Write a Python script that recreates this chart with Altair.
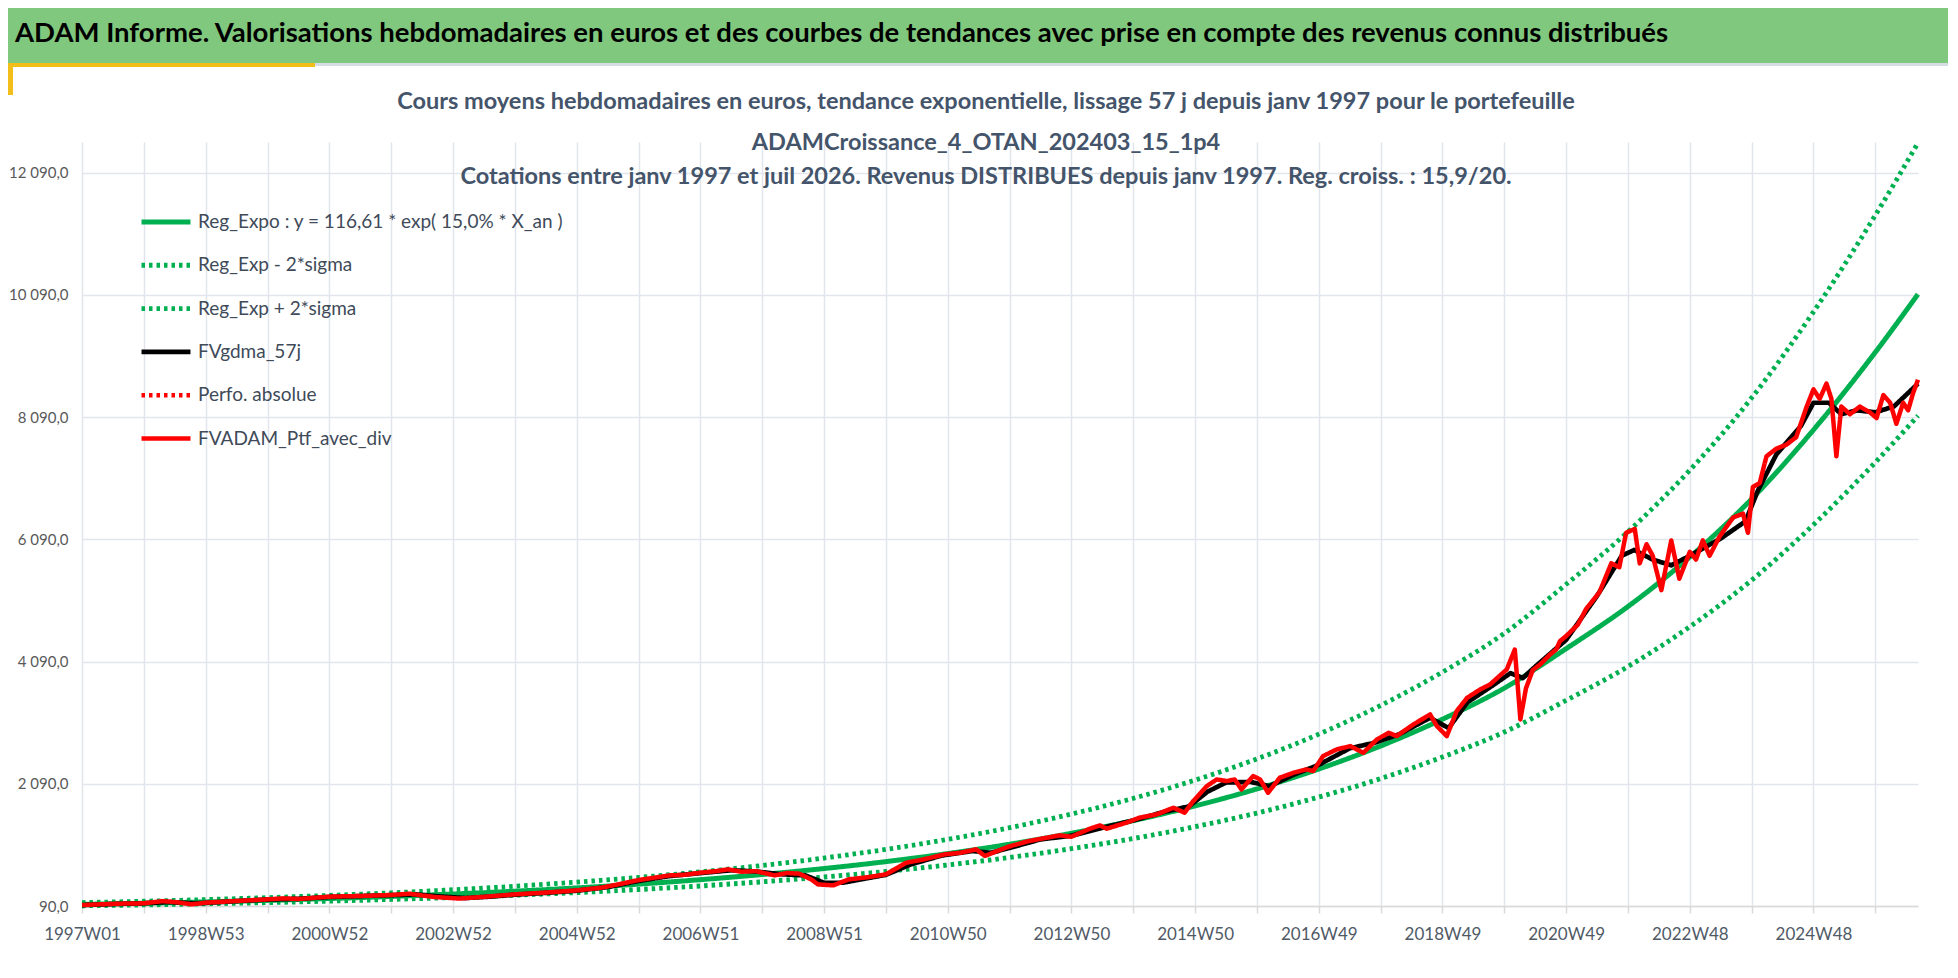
import json
import altair as alt
import pandas as pd

# ---------------- data ----------------
SERIES = [
    "Reg_Expo : y = 116,61 *  exp( 15,0% *  X_an )",
    "Reg_Exp - 2*sigma",
    "Reg_Exp + 2*sigma",
    "FVgdma_57j",
    "Perfo. absolue",
    "FVADAM_Ptf_avec_div",
]
COLORS = ["#00B050", "#00B050", "#00B050", "#000000", "#FF0000", "#FF0000"]
DASHES = [[1, 0], [3.5, 4], [3.5, 4], [1, 0], [3.5, 4], [1, 0]]
WIDTHS = [5, 4.5, 4.5, 4.5, 4.5, 5.5]

TREND_YEARS = [1997, 1998, 1999, 2000, 2001, 2002, 2003, 2004, 2005, 2006, 2007,
               2008, 2009, 2010, 2011, 2012, 2013, 2014, 2015, 2016, 2017, 2018,
               2019, 2020, 2021, 2022, 2023, 2024, 2025, 2026, 2026.69]
TREND = [117, 135, 157, 182, 212, 246, 286, 332, 386, 448, 521, 605, 703, 816, 948,
         1101, 1280, 1487, 1727, 2006, 2331, 2708, 3146, 3655, 4300, 4990, 5800,
         6750, 7880, 9150, 10100]
LOWER = [94, 108, 126, 146, 170, 198, 230, 267, 310, 360, 418, 486, 565, 655, 761,
         884, 1028, 1194, 1387, 1611, 1872, 2175, 2527, 2936, 3454, 4008, 4659,
         5422, 6329, 7349, 8112]
UPPER = [146, 168, 195, 227, 264, 306, 356, 413, 481, 558, 649, 753, 875, 1016, 1180,
         1371, 1594, 1851, 2150, 2497, 2902, 3371, 3917, 4551, 5354, 6213, 7221,
         8404, 9811, 11392, 12575]

RED_YEARS = [1997.0, 1997.3, 1997.6, 1998.0, 1998.3, 1998.55, 1998.77, 1999.0, 1999.5,
             2000.0, 2000.25, 2000.5, 2001.0, 2001.5, 2002.0, 2002.3, 2002.5, 2002.7,
             2003.1, 2003.5, 2004.0, 2004.5, 2005.0, 2005.4, 2005.7, 2006.0, 2006.3,
             2006.5, 2006.75, 2007.0, 2007.25, 2007.45, 2007.66, 2007.9, 2008.2, 2008.4,
             2008.6, 2008.8, 2008.9, 2009.15, 2009.4, 2009.7, 2010.0, 2010.33, 2010.6,
             2010.95, 2011.2, 2011.46, 2011.6, 2011.8, 2011.98, 2012.3, 2012.6, 2012.81,
             2013.0, 2013.3, 2013.46, 2013.57, 2013.89, 2014.1, 2014.38, 2014.65,
             2014.83, 2014.97, 2015.19, 2015.35, 2015.51, 2015.64, 2015.75, 2015.94,
             2016.05, 2016.18, 2016.37, 2016.59, 2016.8, 2016.91, 2017.07, 2017.29,
             2017.51, 2017.72, 2017.94, 2018.13, 2018.26, 2018.53, 2018.8, 2018.91,
             2019.07, 2019.23, 2019.4, 2019.61, 2019.77, 2020.04, 2020.17, 2020.26,
             2020.35, 2020.46, 2020.58, 2020.74, 2020.84, 2020.9, 2021.0, 2021.19,
             2021.32, 2021.54, 2021.73, 2021.86, 2021.97, 2022.11, 2022.19, 2022.3,
             2022.4, 2022.54, 2022.7, 2022.83, 2023.0, 2023.1, 2023.21, 2023.32,
             2023.48, 2023.7, 2023.86, 2023.94, 2024.02, 2024.13, 2024.24, 2024.4,
             2024.56, 2024.72, 2024.89, 2025.0, 2025.1, 2025.21, 2025.29, 2025.37,
             2025.45, 2025.59, 2025.75, 2025.91, 2026.02, 2026.13, 2026.24, 2026.34,
             2026.45, 2026.53, 2026.61, 2026.69]
RED = [105, 118, 128, 134, 170, 150, 117, 145, 172, 199, 215, 205, 243, 254, 270, 292,
       262, 237, 212, 240, 281, 310, 346, 390, 450, 515, 560, 591, 600, 635, 660, 690,
       651, 660, 591, 630, 619, 520, 444, 428, 526, 560, 608, 799, 850, 935, 960, 1017,
       908, 990, 1060, 1150, 1207, 1246, 1224, 1355, 1409, 1355, 1453, 1535, 1589, 1698,
       1616, 1807, 2052, 2161, 2134, 2161, 1998, 2216, 2161, 1943, 2189, 2270, 2325,
       2298, 2543, 2652, 2706, 2597, 2815, 2924, 2870, 3061, 3224, 3033, 2870, 3279,
       3497, 3633, 3715, 3960, 4287, 3143, 3650, 3950, 4042, 4205, 4288, 4423, 4507,
       4694, 4945, 5226, 5696, 5633, 6196, 6259, 5696, 6009, 5821, 5258, 6071, 5445,
       5884, 5758, 6071, 5821, 6134, 6446, 6509, 6196, 6947, 7010, 7448, 7573, 7636,
       7761, 8262, 8543, 8387, 8637, 8387, 7448, 8262, 8136, 8262, 8168, 8074, 8449,
       8324, 7980, 8324, 8199, 8480, 8700]

BLACK_YEARS = [1997.0, 1997.5, 1998.0, 1998.4, 1998.8, 1999.0, 1999.5, 2000.0, 2000.5,
               2001.0, 2001.5, 2002.0, 2002.4, 2002.8, 2003.2, 2003.6, 2004.0, 2004.5,
               2005.0, 2005.5, 2006.0, 2006.5, 2007.0, 2007.5, 2007.9, 2008.3, 2008.7,
               2009.0, 2009.3, 2009.7, 2010.0, 2010.4, 2010.9, 2011.4, 2011.7, 2012.0,
               2012.5, 2013.0, 2013.5, 2014.0, 2014.5, 2014.9, 2015.2, 2015.5, 2015.9,
               2016.2, 2016.6, 2017.0, 2017.5, 2017.9, 2018.3, 2018.8, 2019.1, 2019.4,
               2019.8, 2020.1, 2020.3, 2020.5, 2021.0, 2021.5, 2021.9, 2022.1, 2022.4,
               2022.7, 2023.0, 2023.5, 2023.9, 2024.1, 2024.4, 2024.8, 2025.0, 2025.25,
               2025.45, 2025.7, 2026.0, 2026.3, 2026.69]
BLACK = [105, 122, 135, 155, 135, 140, 170, 195, 208, 238, 252, 268, 280, 245, 220, 243,
         275, 305, 340, 400, 500, 580, 628, 675, 655, 610, 590, 470, 470, 545, 600, 770,
         915, 990, 960, 1040, 1180, 1240, 1370, 1490, 1630, 1720, 1960, 2110, 2120, 2050,
         2240, 2400, 2670, 2760, 2900, 3170, 3000, 3420, 3690, 3900, 3820, 4006, 4445,
         5164, 5821, 5915, 5758, 5664, 5821, 6102, 6384, 6885, 7479, 7949, 8324, 8324,
         8136, 8199, 8168, 8262, 8637]

X_LABELS = ["1997W01", "1998W53", "2000W52", "2002W52", "2004W52", "2006W51",
            "2008W51", "2010W50", "2012W50", "2014W50", "2016W49", "2018W49",
            "2020W49", "2022W48", "2024W48"]
X_GRID = list(range(1997, 2027))
Y_TICKS = [90, 2090, 4090, 6090, 8090, 10090, 12090]

HEADER = ("ADAM Informe. Valorisations hebdomadaires en euros et des courbes de "
          "tendances avec prise en compte des revenus connus distribués")
TITLE_LINES = [
    "Cours moyens hebdomadaires  en euros, tendance exponentielle, lissage 57 j depuis janv 1997 pour le portefeuille",
    "ADAMCroissance_4_OTAN_202403_15_1p4",
    "Cotations entre janv 1997 et juil 2026. Revenus DISTRIBUES depuis janv 1997. Reg. croiss. : 15,9/20.",
]

# ---------------- layout ----------------
W, H = 1836, 764
PAD = {"left": 74, "top": 134, "right": 30, "bottom": 62}
FONT = "Lato"
TITLE_Y = [-40, 1, 35]

trend_df = pd.DataFrame({"year": TREND_YEARS, "value": TREND, "series": SERIES[0]})
bands_df = pd.concat([
    pd.DataFrame({"year": TREND_YEARS, "value": LOWER, "series": SERIES[1]}),
    pd.DataFrame({"year": TREND_YEARS, "value": UPPER, "series": SERIES[2]}),
])
black_df = pd.DataFrame({"year": BLACK_YEARS, "value": BLACK, "series": SERIES[3]})
red_df = pd.DataFrame({"year": RED_YEARS, "value": RED, "series": SERIES[5]})

label_arr = [(X_LABELS[i // 2] if (i % 2 == 0 and i // 2 < len(X_LABELS)) else "")
             for i in range(len(X_GRID))]
x_label_expr = json.dumps(label_arr) + "[round(datum.value - 1997)]"
y_label_expr = "replace(replace(format(datum.value, ',.1f'), ',', ' '), '.', ',')"

legend = alt.Legend(
    title=None, orient="none", legendX=57, legendY=53, symbolType="stroke",
    symbolSize=2400, labelFont=FONT, labelFontSize=19, labelColor="#404A59",
    labelOffset=5, rowPadding=6.3, padding=0, labelLimit=600,
)

x_enc = alt.X(
    "year:Q",
    scale=alt.Scale(domain=[1997, 2026.69], nice=False, zero=False),
    axis=alt.Axis(
        values=X_GRID, labelExpr=x_label_expr, title=None, grid=True,
        gridColor="#E2E5EB", gridWidth=1.5, tickColor="#D9D9D9", tickSize=7,
        tickWidth=1.5, domainColor="#D9D9D9", domainWidth=1.5, labelFont=FONT,
        labelFontSize=17, labelColor="#505A66", labelPadding=13, labelFlush=False,
        labelOverlap=False,
    ),
)
y_enc = alt.Y(
    "value:Q",
    scale=alt.Scale(domain=[90, 12590], nice=False, zero=False),
    axis=alt.Axis(
        values=Y_TICKS, labelExpr=y_label_expr, title=None, ticks=False, domain=False,
        gridColor="#E2E5EB", gridWidth=1.5, labelFont=FONT, labelFontSize=15,
        labelColor="#595959", labelPadding=14,
    ),
)


def series_enc():
    return dict(
        color=alt.Color("series:N", scale=alt.Scale(domain=SERIES, range=COLORS), legend=legend),
        strokeDash=alt.StrokeDash("series:N", scale=alt.Scale(domain=SERIES, range=DASHES), legend=legend),
        strokeWidth=alt.StrokeWidth("series:N", scale=alt.Scale(domain=SERIES, range=WIDTHS), legend=legend),
    )


deco = pd.DataFrame({"k": [0]})
band = alt.Chart(deco).mark_rect(color="#80C87D").encode(
    x=alt.value(-PAD["left"]), x2=alt.value(W + PAD["right"]),
    y=alt.value(-PAD["top"]), y2=alt.value(-79))
under = alt.Chart(deco).mark_rect(color="#D6DCE4").encode(
    x=alt.value(233), x2=alt.value(W + PAD["right"]),
    y=alt.value(-79), y2=alt.value(-76))
yellow_h = alt.Chart(deco).mark_rect(color="#F2BE1A").encode(
    x=alt.value(-PAD["left"]), x2=alt.value(233),
    y=alt.value(-79), y2=alt.value(-75))
yellow_v = alt.Chart(deco).mark_rect(color="#F2BE1A").encode(
    x=alt.value(-PAD["left"]), x2=alt.value(-69),
    y=alt.value(-79), y2=alt.value(-47))
header = alt.Chart(pd.DataFrame({"t": [HEADER]})).mark_text(
    align="left", baseline="middle", font=FONT, fontSize=27.5, fontWeight="bold",
    color="#000000").encode(x=alt.value(-67), y=alt.value(-108), text="t:N")

title_layers = [
    alt.Chart(pd.DataFrame({"t": [line]})).mark_text(
        align="center", baseline="middle", font=FONT, fontSize=23.5, fontWeight="bold",
        color="#44546A").encode(x=alt.value(904), y=alt.value(ty), text="t:N")
    for line, ty in zip(TITLE_LINES, TITLE_Y)
]

trend = alt.Chart(trend_df).mark_line(interpolate="monotone").encode(
    x=x_enc, y=y_enc, **series_enc())
bands = alt.Chart(bands_df).mark_line(interpolate="monotone").encode(
    x=x_enc, y=y_enc, detail="series:N", **series_enc())
black = alt.Chart(black_df).mark_line(interpolate="linear", strokeJoin="round").encode(
    x=x_enc, y=y_enc, **series_enc())
red = alt.Chart(red_df).mark_line(interpolate="linear", strokeJoin="round").encode(
    x=x_enc, y=y_enc, **series_enc())

chart = alt.layer(band, under, yellow_h, yellow_v, header, *title_layers,
                  trend, bands, black, red).properties(
    width=W, height=H,
    padding=PAD,
    autosize=alt.AutoSizeParams(type="none"),
    background="white",
).configure_view(stroke=None).configure_legend(rowPadding=6.3)

chart.save("out.html", embed_options={"renderer": "svg", "actions": False})
